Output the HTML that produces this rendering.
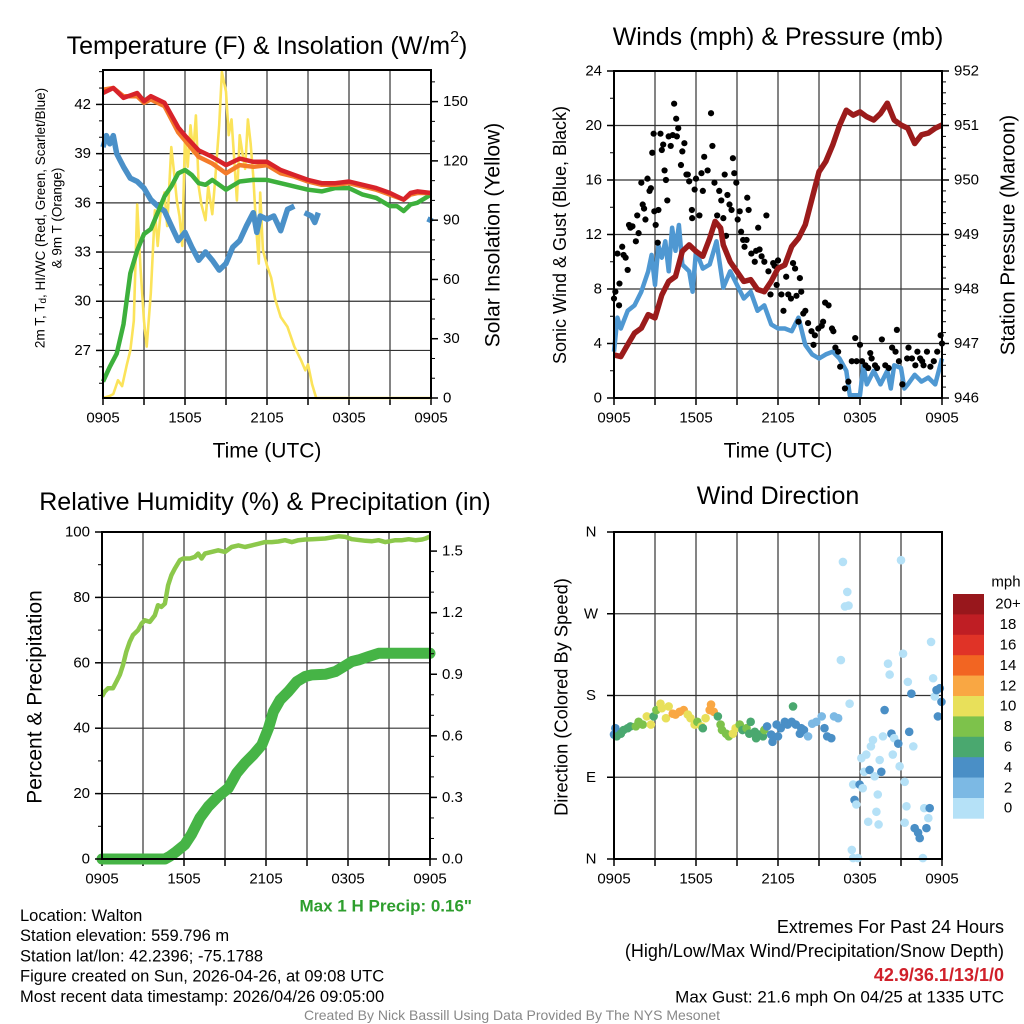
<!DOCTYPE html>
<html><head><meta charset="utf-8"><style>
body{margin:0;background:#fff;}
svg{display:block;font-family:"Liberation Sans",Arial,sans-serif;}
</style></head><body>
<svg id="c" width="1024" height="1024" viewBox="0 0 1024 1024"></svg>
<script>
// ---------- DATA ----------
const xTickLabels = ["0905","1505","2105","0305","0905"];
// Panel 1: temperature (F) & insolation
const tT = [0,0.75,1.5,2.5,3,3.5,4.5,5.5,6,7,8,9,10,11,12,13,14,15,16,17,18,19,20,21,22,22.5,23,24];
const temp2m = [42.7,43.0,42.4,42.7,42.2,42.5,42.1,40.6,40.1,39.2,38.8,38.3,38.7,38.5,38.5,38.0,37.7,37.4,37.2,37.2,37.3,37.1,36.9,36.6,36.2,36.6,36.7,36.6];
const temp9m = [42.9,43.0,42.5,42.5,42.1,42.3,41.9,40.3,39.8,38.8,38.4,37.8,38.3,38.2,38.3,37.8,37.6,37.3,37.1,37.1,37.2,37.0,36.8,36.5,36.2,36.5,36.6,36.6];
const tTd = [0,0.5,1,1.5,2,2.5,3,3.5,4,4.5,5,5.5,6,6.5,7,7.5,8,9,10,11,12,13,14,15,16,17,18,19,20,21,21.5,22,22.5,23,24];
const dewpt = [25.1,26.0,26.8,28.6,31.7,33.1,34.1,34.4,35.4,36.4,37.0,37.8,38.0,37.7,37.2,37.1,37.4,36.8,37.3,37.4,37.4,37.2,37.0,36.8,36.7,36.9,36.9,36.5,36.3,35.8,35.8,35.5,35.9,36.0,36.5];
const tWc = [0,0.25,0.5,0.75,1,1.25,1.5,2,2.5,3,3.5,4,4.5,5,5.5,6,6.5,7,7.5,8,8.5,9,9.5,10,10.5,11,11.25,11.5,12,12.5,13,13.5,14,14.2,14.75,15.25,15.5,15.75,15.9,23.85,24];
const windChill = [39.4,40.1,39.6,40.1,39.0,38.6,38.2,37.5,37.3,36.9,36.2,35.8,35.5,34.6,33.7,34.2,33.3,32.5,33.0,32.5,31.9,32.3,33.3,33.7,34.6,35.4,34.2,35.2,35.0,35.2,34.3,35.6,35.8,null,35.4,35.2,34.8,35.4,null,34.8,35.1];
const tSol = [0,0.5,0.75,1.1,1.4,1.75,2,2.25,2.5,2.75,3,3.2,3.5,3.8,4,4.2,4.5,4.7,5,5.2,5.4,5.6,5.8,6,6.2,6.4,6.6,6.8,7,7.2,7.5,7.7,8,8.2,8.5,8.7,9,9.2,9.4,9.6,9.8,10,10.2,10.4,10.6,10.8,11,11.2,11.4,11.5,11.7,12,12.3,12.6,13,13.5,14,14.5,14.8,15,15.3,15.6,24];
const solar = [0,1,2,9,6,17,24,39,98,65,39,26,53,95,77,93,104,87,127,114,100,92,77,133,117,138,124,143,107,98,90,107,93,110,138,165,155,133,141,121,100,133,124,116,141,129,112,87,68,104,75,67,61,50,41,36,26,19,14,17,7,0,0];
// Panel 2: winds & pressure
const tP = [0,0.5,1,1.5,2,2.5,3,3.5,4,4.5,5,5.5,6,6.5,7,7.4,7.8,8,8.5,9,9.5,10,10.5,11,11.5,12,12.5,13,13.5,14,14.5,15,15.5,16,16.5,17,17.5,18,18.5,19,19.5,20,20.5,21,21.5,22,22.5,23,23.5,24];
const pressure = [946.79,946.76,946.98,947.19,947.28,947.53,947.47,947.89,948.14,948.23,948.69,948.81,948.69,948.60,948.93,949.24,949.12,948.81,948.50,948.32,948.14,948.17,947.99,947.95,948.14,948.38,948.44,948.78,948.93,949.18,949.67,950.15,950.34,950.64,951.0,951.28,951.19,951.25,951.16,951.10,951.22,951.41,951.10,951.01,950.95,950.67,950.83,950.86,950.95,951.01];
const tW = [0,0.25,0.5,1,1.5,2,2.5,2.75,3,3.25,3.5,3.75,4,4.25,4.5,4.75,5,5.5,5.75,6,6.5,7,7.5,8,8.5,9,9.5,10,10.5,11,11.5,12,12.5,13,13.5,14,14.5,15,15.5,16,16.5,17,17.25,17.5,18,18.25,18.5,19,19.5,20,20.25,20.5,21,21.25,21.5,22,22.5,23,23.5,24];
const wind = [3.4,5.9,5.1,6.4,6.8,7.8,9.3,10.5,8.3,11.2,10.3,11.5,9.3,12.5,10.8,12.7,9.8,9.3,7.8,10.8,9.5,9.8,11.5,8.1,9.3,8.3,7.3,7.8,6.4,6.8,5.4,5.1,5.1,4.9,5.9,3.9,3.2,2.9,3.2,3.4,2.9,2.0,0.2,0.2,0.2,2.4,1.0,2.0,1.0,2.0,0.7,2.4,2.2,0.7,1.0,1.7,1.2,1.5,1.0,2.9];
const tG = [0,0.1,0.25,0.37,0.4,0.6,0.7,0.85,1,1.1,1.2,1.35,1.6,1.7,1.8,2,2.1,2.2,2.3,2.45,2.6,2.7,2.8,2.9,2.95,3.05,3.2,3.25,3.4,3.5,3.6,3.7,3.8,3.9,4,4.15,4.3,4.4,4.55,4.6,4.7,4.9,5,5.15,5.3,5.4,5.5,5.7,5.72,5.9,6,6.25,6.4,6.5,6.6,6.85,7.1,7.2,7.35,7.55,7.7,7.85,8,8.1,8.2,8.3,8.45,8.6,8.7,8.8,8.95,9.05,9.2,9.3,9.45,9.55,9.7,9.75,9.85,10.05,10.3,10.4,10.55,10.65,10.8,11,11.15,11.3,11.45,11.65,11.75,11.9,12,12.25,12.4,12.6,12.75,12.95,13.1,13.25,13.35,13.5,13.6,13.7,13.85,14,14.2,14.45,14.6,14.7,14.95,15.2,15.3,15.45,15.7,15.95,16.05,16.2,16.4,16.55,16.9,17.15,17.4,17.65,17.75,18,18.15,18.4,18.6,18.75,18.85,19.1,19.25,19.6,19.85,20.1,20.35,20.6,20.7,20.85,21.1,21.45,21.55,21.8,22.05,22.2,22.4,22.55,22.65,22.9,23.15,23.4,23.65,23.9,24];
const gust = [7.3,7.8,10.6,6.8,8.4,11.1,10.5,10.3,9.4,12.7,12.5,12.6,11.5,13.4,12.1,15.8,14.2,13.9,13.1,16.1,15.2,15.4,18.0,19.4,13.7,12.7,11.4,13.8,19.4,18.2,18.6,16.7,16.0,14.5,19.2,18.5,19.3,21.6,20.5,19.2,19.8,17.1,18.1,18.7,16.4,16.4,15.9,13.8,13.2,15.3,16.1,13.4,16.5,15.2,17.7,16.7,20.9,18.5,15.8,13.4,15.2,14.5,13.2,16.4,11.9,14.9,14.2,13.8,17.6,16.5,15.8,13.1,13.7,12.2,11.6,11.1,11.6,14.7,13.8,10.6,10.0,10.8,12.5,10.9,10.4,10.0,13.4,9.3,7.6,9.9,9.7,8.3,10.1,7.6,6.4,8.9,7.6,7.3,9.9,9.5,7.5,5.6,8.8,7.8,6.2,6.4,5.5,4.9,3.9,4.6,5.1,5.3,5.6,7.0,6.8,5.1,4.9,3.7,3.4,2.3,0.7,1.2,2.7,4.4,2.7,3.9,2.7,2.4,2.2,3.3,2.9,2.4,2.2,4.3,2.4,2.2,3.7,3.4,5.0,2.7,1.0,2.9,3.7,2.9,2.4,3.4,2.9,2.7,2.4,3.4,2.3,2.7,3.4,4.6,4.0];
// Panel 3: RH & precipitation
const tRH = [0,0.2,0.44,0.8,1.05,1.3,1.54,1.78,2.03,2.27,2.64,2.9,3.13,3.5,3.86,4.1,4.35,4.6,4.84,5.08,5.33,5.7,5.94,6.43,6.8,7.04,7.29,7.53,8.02,8.5,9.0,9.49,9.98,10.46,10.95,11.44,11.93,12.42,12.9,13.4,13.89,14.38,14.87,15.35,16.33,17.3,17.8,18.29,19.27,19.76,20.24,20.73,21.47,21.96,22.44,22.93,23.42,23.67,24];
const rh = [49.7,51.2,52.2,52.2,54.2,56.3,59.3,63.4,66.4,68.5,70.0,72.0,73.0,72.5,74.5,77.6,77.1,78.1,83.7,86.8,88.8,91.4,91.9,91.9,92.4,93.4,91.9,93.4,93.9,94.4,93.9,95.4,95.9,95.4,95.9,96.4,96.9,96.9,97.1,97.5,96.9,97.5,97.7,97.8,98.0,98.7,98.5,97.8,97.3,97.2,97.5,96.9,97.5,97.5,97.8,97.5,97.7,98.0,98.6];
const tPr = [0,4.6,4.96,5.45,6.06,6.55,7.16,7.78,8.5,9.24,9.85,10.46,11.08,11.69,12.18,12.54,13.03,13.64,14.25,14.87,15.35,16.33,17.07,17.68,18.29,18.78,19.5,20.24,21.1,24];
const precip = [0,0,0.013,0.037,0.07,0.12,0.2,0.256,0.305,0.345,0.418,0.467,0.508,0.556,0.637,0.718,0.775,0.816,0.864,0.889,0.897,0.9,0.913,0.937,0.962,0.97,0.986,1.002,1.002,1.002];
// Panel 4: wind direction coloured by speed
const tDir = [0,0.1,0.2,0.5,0.7,1.0,1.2,1.6,1.8,2.1,2.4,2.7,2.9,3.1,3.4,3.5,3.8,4.0,4.3,4.5,4.8,5.1,5.4,5.6,5.9,6.1,6.4,6.5,6.7,7.0,7.1,7.3,7.6,7.8,7.9,8.2,8.4,8.7,8.9,9.2,9.4,9.7,9.9,10.0,10.3,10.4,10.6,10.9,11.0,11.2,11.5,11.6,11.9,12.0,12.2,12.5,12.7,13.0,13.1,13.3,13.6,13.7,13.9,14.2,14.5,14.8,15.2,15.4,15.6,15.9,16.1,16.4,
16.6,16.75,17.07,16.9,17.16,17.24,17.5,17.4,17.85,17.5,17.6,17.73,17.97,18.1,18.2,18.3,18.46,18.6,18.7,18.8,18.95,19.07,19.2,19.3,19.36,19.44,19.56,19.68,19.8,20.05,20.17,20.3,20.4,20.5,20.8,20.9,21.0,21.15,21.27,21.27,21.4,21.5,21.6,21.76,21.9,22.0,22.25,22.37,22.6,22.7,22.86,23.0,23.1,23.2,23.35,23.47,23.6,23.7,23.84,23.96];
const dirDeg = [137,144,135,138,142,144,146,146,151,148,157,148,157,164,171,166,155,168,160,159,162,164,159,155,148,151,146,144,155,164,170,162,157,148,142,138,135,138,144,148,142,144,138,151,140,133,137,135,142,146,137,129,148,135,144,151,148,151,168,148,138,144,142,135,149,151,157,144,135,133,157,155,
219,327,294,278,279,171,1,10,1,82,65,60,82,111,78,96,115,41,98,124,131,91,52,71,38,109,96,135,164,215,203,138,115,133,127,102,329,226,85,40,58,195,140,182,124,34,29,23,1,56,34,45,56,239,199,179,186,157,188,173];
const dirSpd = [5,5,7,7,7,7,7,9,9,9,11,11,7,9,11,11,11,11,13,13,13,13,11,11,11,9,11,7,11,13,13,13,7,9,9,9,9,11,11,9,7,9,7,7,7,7,7,7,9,5,5,5,5,5,5,5,5,5,7,5,5,5,5,3,3,3,3,5,5,5,3,3,
1,1,1,1,1,1,1,1,1,1,4,1,5,1,1,1,1,1,5,1,1,1,1,1,1,1,5,1,5,1,1,5,1,1,5,1,1,1,1,1,1,1,5,5,1,5,5,5,1,1,5,1,5,1,1,1,5,5,5,5];
const speedLabels = ["20+","18","16","14","12","10","8","6","4","2","0"];
const speedColors = ["#98171c","#bf1e24","#e03327","#f26522","#f9a743","#e8e05a","#7dc24b","#4aa86f","#4a8fc6","#7cb9e4","#b5e1f7"];

// ---------- HELPERS ----------
const NS = "http://www.w3.org/2000/svg";
const svg = document.getElementById("c");
function mk(tag, attrs, parent){const e=document.createElementNS(NS,tag);for(const k in attrs)e.setAttribute(k,attrs[k]);(parent||svg).appendChild(e);return e;}
function txt(s, x, y, size, opts, parent){opts=opts||{};const e=mk("text",{x:x,y:y,"font-size":size,"text-anchor":opts.anchor||"middle","dominant-baseline":"central",fill:opts.fill||"#000","font-weight":opts.weight||"normal"},parent);if(opts.rot)e.setAttribute("transform","rotate("+opts.rot+" "+x+" "+y+")");e.textContent=s;return e;}
function scale(d0,d1,r0,r1){return v=>r0+(v-d0)/(d1-d0)*(r1-r0);}
function pathD(xs,ys,sx,sy){let d="",pen=false;for(let i=0;i<xs.length;i++){if(ys[i]===null){pen=false;continue;}d+=(pen?"L":"M")+sx(xs[i]).toFixed(1)+" "+sy(ys[i]).toFixed(1);pen=true;}return d;}

function frame(P){
  const g=mk("g",{});
  
  
  for(let h=3;h<24;h+=3){const x=P.sx(h);mk("line",{x1:x,x2:x,y1:P.y0,y2:P.y1,stroke:"#333","stroke-width":1.2},g);}
  P.hgrid.forEach(v=>{const y=P.sy(v);mk("line",{x1:P.x0,x2:P.x1,y1:y,y2:y,stroke:"#333","stroke-width":1.2},g);});
  const ax=mk("g",{});
  
  
  for(let h=0;h<=24;h+=3){const x=P.sx(h);mk("line",{x1:x,x2:x,y1:P.y1,y2:P.y1+7,stroke:"#000","stroke-width":1.5},ax);}
  xTickLabels.forEach((s,i)=>{const t=txt(s,P.sx(i*6),P.y1+20,15,{},ax);});
  return g;
}
function border(P){const r=mk("rect",{x:P.x0,y:P.y0,width:P.x1-P.x0,height:P.y1-P.y0,fill:"none",stroke:"#000","stroke-width":2});}
function yTicks(P,sy,vals,minors,side,labelFn,name){
  const g=mk("g",{});
  
  
  const x=side==="L"?P.x0:P.x1, dir=side==="L"?-1:1;
  minors.forEach(v=>{const y=sy(v);mk("line",{x1:x,x2:x+dir*4,y1:y,y2:y,stroke:"#000","stroke-width":1},g);});
  vals.forEach(v=>{const y=sy(v);mk("line",{x1:x,x2:x+dir*7,y1:y,y2:y,stroke:"#000","stroke-width":1.5},g);
    txt(labelFn(v),side==="L"?x-12:x+12,y,15,{anchor:side==="L"?"end":"start"},g);});
}
function range(a,b,s){const r=[];for(let v=a;v<=b+1e-9;v+=s)r.push(+v.toFixed(4));return r;}

// ---------- PANEL 1 ----------
const P1={name:"temperature-panel",x0:103,x1:431,y0:70,y1:398};
P1.sx=scale(0,24,P1.x0,P1.x1);P1.sy=scale(24.1,44.1,P1.y1,P1.y0);
const s1r=scale(0,166,P1.y1,P1.y0);
P1.hgrid=[27,30,33,36,39,42];
frame(P1);
let e;
e=mk("path",{d:pathD(tSol,solar,P1.sx,s1r),fill:"none",stroke:"#fbe35a","stroke-width":2.6,"stroke-linejoin":"round"});

e=mk("path",{d:pathD(tWc,windChill,P1.sx,P1.sy),fill:"none",stroke:"#4a90c8","stroke-width":5.5,"stroke-linejoin":"round"});

e=mk("path",{d:pathD(tTd,dewpt,P1.sx,P1.sy),fill:"none",stroke:"#3db03c","stroke-width":4.5,"stroke-linejoin":"round"});

e=mk("path",{d:pathD(tT,temp9m,P1.sx,P1.sy),fill:"none",stroke:"#f47b2a","stroke-width":4.5,"stroke-linejoin":"round"});

e=mk("path",{d:pathD(tT,temp2m,P1.sx,P1.sy),fill:"none",stroke:"#d8232a","stroke-width":4.5,"stroke-linejoin":"round"});

border(P1);
yTicks(P1,P1.sy,[27,30,33,36,39,42],range(25,44,1),"L",v=>String(v),"temperature-y-axis");
yTicks(P1,s1r,[0,30,60,90,120,150],range(0,160,10),"R",v=>String(v),"insolation-y-axis");
e=mk("text",{x:267,y:46,"font-size":25,"text-anchor":"middle","dominant-baseline":"central"});
e.innerHTML='Temperature (F) &amp; Insolation (W/m<tspan dy="-9" font-size="16">2</tspan><tspan dy="9">)</tspan>';

e=txt("Time (UTC)",267,451,21);
e=mk("text",{x:40,y:218,"font-size":13.5,"text-anchor":"middle","dominant-baseline":"central",transform:"rotate(-90 40 218)"});
e.innerHTML='2m T, T<tspan dy="3" font-size="10">d</tspan><tspan dy="-3">, HI/WC (Red, Green, Scarlet/Blue)</tspan>';

e=txt("& 9m T (Orange)",57,218,13.5,{rot:-90});
e=txt("Solar Insolation (Yellow)",493,235,21,{rot:-90});

// ---------- PANEL 2 ----------
const P2={name:"winds-panel",x0:614,x1:942,y0:71,y1:398};
P2.sx=scale(0,24,P2.x0,P2.x1);P2.sy=scale(0,24,P2.y1,P2.y0);
const s2r=scale(946,952,P2.y1,P2.y0);
P2.hgrid=[4,8,12,16,20];
frame(P2);
e=mk("path",{d:pathD(tW,wind,P2.sx,P2.sy),fill:"none",stroke:"#4f98d2","stroke-width":4.5,"stroke-linejoin":"round"});

const gg=mk("g",{});

tG.forEach((t,i)=>{const c=mk("circle",{cx:P2.sx(t),cy:P2.sy(gust[i]),r:3.1,fill:"#000"},gg);

});
e=mk("path",{d:pathD(tP,pressure,P2.sx,s2r),fill:"none",stroke:"#9b1b1b","stroke-width":5.5,"stroke-linejoin":"round"});

border(P2);
yTicks(P2,P2.sy,[0,4,8,12,16,20,24],range(0,24,2),"L",v=>String(v),"wind-y-axis");
yTicks(P2,s2r,[946,947,948,949,950,951,952],range(946,952,0.2),"R",v=>String(v),"pressure-y-axis");
e=txt("Winds (mph) & Pressure (mb)",778,37,25);
e=txt("Time (UTC)",778,451,21);
e=txt("Sonic Wind & Gust (Blue, Black)",560,235,18,{rot:-90});
e=txt("Station Pressure (Maroon)",1008,235,20.5,{rot:-90});

// ---------- PANEL 3 ----------
const P3={name:"humidity-panel",x0:102,x1:430,y0:532,y1:859};
P3.sx=scale(0,24,P3.x0,P3.x1);P3.sy=scale(0,100,P3.y1,P3.y0);
const s3r=scale(0,1.593,P3.y1,P3.y0);
P3.hgrid=[20,40,60,80];
frame(P3);
e=mk("path",{d:pathD(tRH,rh,P3.sx,P3.sy),fill:"none",stroke:"#8cc84b","stroke-width":4.5,"stroke-linejoin":"round"});

e=mk("path",{d:pathD(tPr,precip,P3.sx,s3r),fill:"none",stroke:"#46b446","stroke-width":11,"stroke-linejoin":"round","stroke-linecap":"round"});

border(P3);
yTicks(P3,P3.sy,[0,20,40,60,80,100],range(0,100,10),"L",v=>String(v),"humidity-y-axis");
yTicks(P3,s3r,[0,0.3,0.6,0.9,1.2,1.5],range(0,1.5,0.1),"R",v=>v.toFixed(1),"precip-y-axis");
e=txt("Relative Humidity (%) & Precipitation (in)",265,502,25);
e=txt("Percent & Precipitation",35,697,21,{rot:-90});
e=txt("Max 1 H Precip: 0.16\"",472,906,17,{anchor:"end",fill:"#2e9e2e",weight:"bold"});

// ---------- PANEL 4 ----------
const P4={name:"wind-direction-panel",x0:614,x1:942,y0:532,y1:859};
P4.sx=scale(0,24,P4.x0,P4.x1);P4.sy=scale(0,360,P4.y1,P4.y0);
P4.hgrid=[90,180,270];
frame(P4);
function spdColor(s){let idx=Math.min(10,Math.floor(s/2));return speedColors[10-idx];}
const dg=mk("g",{});

tDir.forEach((t,i)=>{const c=mk("circle",{cx:P4.sx(t),cy:P4.sy(dirDeg[i]),r:4.3,fill:spdColor(dirSpd[i])},dg);

});
border(P4);
["N","E","S","W","N"].forEach((s,i)=>{const y=P4.sy(i*90);mk("line",{x1:P4.x0,x2:P4.x0-7,y1:y,y2:y,stroke:"#000","stroke-width":1.5});
const t=txt(s,591,y,15);});
e=txt("Wind Direction",778,496,25);
e=txt("Direction (Colored By Speed)",561,697,18.3,{rot:-90});
// colorbar
const cb=mk("g",{});

const cbTop=594,cbH=20.4;
speedColors.forEach((c,i)=>{mk("rect",{x:953,y:cbTop+i*cbH,width:31,height:cbH+0.3,fill:c},cb);
const t=txt(speedLabels[i],1008,cbTop+i*cbH+cbH/2,15,{},cb);});
e=txt("mph",1006,582,15);

// ---------- TEXT ----------
const info=["Location: Walton","Station elevation: 559.796 m","Station lat/lon: 42.2396; -75.1788","Figure created on Sun, 2026-04-26, at 09:08 UTC","Most recent data timestamp: 2026/04/26 09:05:00"];
info.forEach((s,i)=>{const t=txt(s,20,916+i*20.2,16.5,{anchor:"start"});});
e=txt("Extremes For Past 24 Hours",1004,927,18,{anchor:"end"});
e=txt("(High/Low/Max Wind/Precipitation/Snow Depth)",1004,951,18,{anchor:"end"});
e=txt("42.9/36.1/13/1/0",1004,975,18,{anchor:"end",fill:"#d0202a",weight:"bold"});
e=txt("Max Gust: 21.6 mph On 04/25 at 1335 UTC",1004,997,17,{anchor:"end"});
e=txt("Created By Nick Bassill Using Data Provided By The NYS Mesonet",512,1015,14,{fill:"#888"});
</script>
</body></html>
